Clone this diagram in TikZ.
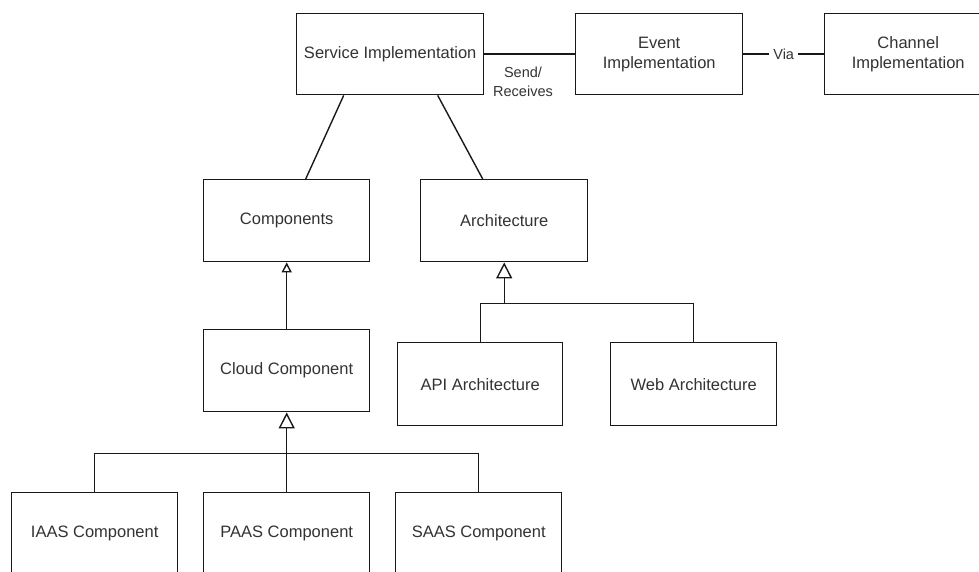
\documentclass[tikz,border=0pt]{standalone}
\usepackage{fontspec}
\setmainfont{Liberation Sans}
\usetikzlibrary{arrows.meta,calc}
\tikzset{
  x=1pt,y=-1pt,
  box/.style={draw=black!90, line width=1.4pt, fill=white, anchor=north west, inner sep=0pt,
    align=center, text=black!80, font=\fontsize{16.5}{20}\selectfont},
  conn/.style={draw=black!90, line width=1.4pt},
  lbl/.style={text=black!80, font=\fontsize{14.5}{19}\selectfont, align=center, inner sep=1pt},
  bigtri/.style={-{Triangle[open,length=16pt,width=16pt,fill=white]}},
  smalltri/.style={-{Triangle[open,length=10pt,width=10pt,fill=white]}},
}
\begin{document}
\begin{tikzpicture}
\useasboundingbox (0,0) rectangle (979,572);
\clip (0,0) rectangle (979,572);
% boxes
\node[box, minimum width=187pt, minimum height=81pt] (svc) at (296,13) {Service Implementation};
\node[box, minimum width=167pt, minimum height=81pt] (evt) at (575,13) {Event\\Implementation};
\node[box, minimum width=167pt, minimum height=81pt] (chn) at (824,13) {Channel\\Implementation};
\node[box, minimum width=166pt, minimum height=82pt] (comp) at (203,179) {Components};
\node[box, minimum width=167pt, minimum height=82pt] (arch) at (420,179) {Architecture};
\node[box, minimum width=166pt, minimum height=82pt] (cloud) at (203,329) {Cloud Component};
\node[box, minimum width=165pt, minimum height=83pt] (api) at (397,342) {API Architecture};
\node[box, minimum width=166pt, minimum height=83pt] (web) at (610,342) {Web Architecture};
\node[box, minimum width=166pt, minimum height=82pt] (iaas) at (11,492) {IAAS Component};
\node[box, minimum width=166pt, minimum height=82pt] (paas) at (203,492) {PAAS Component};
\node[box, minimum width=166pt, minimum height=82pt] (saas) at (395,492) {SAAS Component};
% top connectors
\draw[conn] (svc.east) -- (evt.west);
\node[lbl] (sendlbl) at (523,81.5) {Send/\\Receives};
\draw[conn] (evt.east) -- node[lbl, fill=white, inner xsep=4pt] (vialbl) {Via} (chn.west);
% service to components / architecture
\draw[conn] ([xshift=-46.5pt]svc.south) -- ([xshift=19pt]comp.north);
\draw[conn] ([xshift=47.5pt]svc.south) -- ([xshift=-21.5pt]arch.north);
% cloud -> components
\draw[conn, smalltri] (cloud.north) -- (comp.south);
% architecture inheritance
\path (arch.south) ++(0,41) coordinate (aj);
\draw[conn] (api.north) |- (aj);
\draw[conn] (web.north) |- (aj);
\draw[conn, bigtri] (aj) -- (arch.south);
% cloud inheritance
\path (cloud.south) ++(0,41) coordinate (cj);
\draw[conn] (iaas.north) |- (cj);
\draw[conn] (saas.north) |- (cj);
\draw[conn] (paas.north) -- (cj);
\draw[conn, bigtri] (cj) -- (cloud.south);
\end{tikzpicture}
\end{document}
